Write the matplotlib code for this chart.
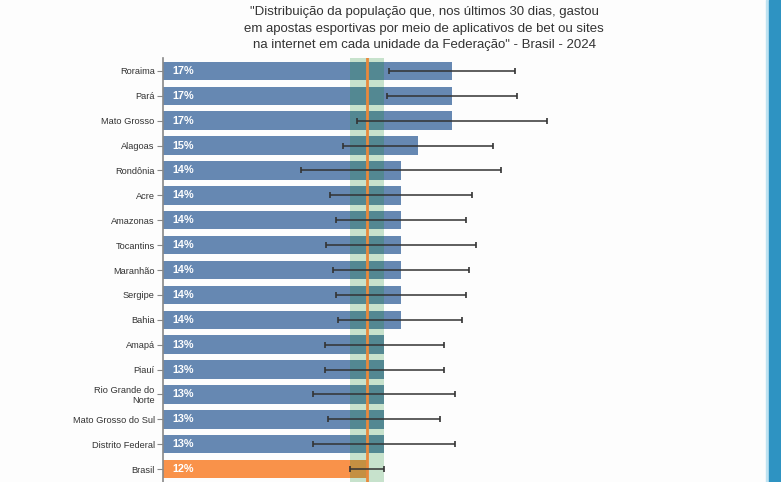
import numpy as np
import matplotlib
matplotlib.use("Agg")
import matplotlib.pyplot as plt
from matplotlib.patches import Rectangle

# Dados
estados = ["Roraima", "Pará", "Mato Grosso", "Alagoas", "Rondônia", "Acre",
           "Amazonas", "Tocantins", "Maranhão", "Sergipe", "Bahia", "Amapá",
           "Piauí", "Rio Grande do\nNorte", "Mato Grosso do Sul",
           "Distrito Federal", "Brasil"]
valores = [17, 17, 17, 15, 14, 14, 14, 14, 14, 14, 14, 13, 13, 13, 13, 13, 12]
li = [13.3, 13.2, 11.4, 10.6, 8.1, 9.8, 10.2, 9.6, 10.0, 10.2, 10.3, 9.5,
      9.5, 8.8, 9.7, 8.8, 11.0]
ls = [20.7, 20.8, 22.6, 19.4, 19.9, 18.2, 17.8, 18.4, 18.0, 17.8, 17.6, 16.5,
      16.5, 17.2, 16.3, 17.2, 13.0]
brasil = 12
brasil_li = 11.0
brasil_ls = 13.0

titulo = ('"Distribuição da população que, nos últimos 30 dias, gastou\n'
          'em apostas esportivas por meio de aplicativos de bet ou sites\n'
          'na internet em cada unidade da Federação" - Brasil - 2024')

fonte = ["Liberation Sans", "DejaVu Sans"]
fonte_titulo = ["Liberation Sans Narrow", "Liberation Sans", "DejaVu Sans"]

fig = plt.figure(figsize=(7.81, 4.82), dpi=100)
fig.patch.set_facecolor("#fdfdfd")
ax = fig.add_axes([163 / 781, 0, 595 / 781, 424 / 482])
ax.set_facecolor("#fdfdfd")

y = np.arange(len(estados))
cores = ["#6688b2"] * (len(estados) - 1) + ["#f9924a"]
ax.barh(y, valores, height=0.74, color=cores, zorder=2)

vals = np.array(valores, dtype=float)
erro = [vals - np.array(li), np.array(ls) - vals]
ax.errorbar(vals, y, xerr=erro, fmt="none", ecolor="#333333", elinewidth=1.1,
            capsize=2.5, capthick=1.2, zorder=5)

ax.axvspan(brasil_li, brasil_ls, color="#158a2a", alpha=0.23, lw=0, zorder=3)
ax.axvline(brasil, color="#e8893c", lw=2, zorder=4)

for yi, v in zip(y, valores):
    ax.text(0.55, yi, f"{v}%", color="white", fontweight="bold", fontsize=7.8,
            va="center", ha="left", family=fonte, zorder=6)

ax.set_xlim(0, 35)
ax.set_ylim(16.52, -0.52)
ax.set_yticks(y)
ax.set_yticklabels(estados, fontsize=6.7, family=fonte, color="#333333",
                   ha="right", linespacing=1.1)
ax.set_xticks([])
ax.tick_params(axis="y", length=4, color="#888888", pad=2)
for s in ["top", "right", "bottom"]:
    ax.spines[s].set_visible(False)
ax.spines["left"].set_color("#888888")
ax.spines["left"].set_linewidth(1.2)

fig.text(0.543, 0.987, titulo, ha="center", va="top", fontsize=9.5,
         family=fonte_titulo, color="#333333", linespacing=1.5)

# faixa azul na borda direita
fig.patches.append(Rectangle((766 / 781, 0), 3 / 781, 1, transform=fig.transFigure,
                             color="#bfe3f2", zorder=0))
fig.patches.append(Rectangle((769 / 781, 0), 12 / 781, 1, transform=fig.transFigure,
                             color="#2e93c2", zorder=0))

fig.savefig("out.png", dpi=100, facecolor=fig.get_facecolor())
